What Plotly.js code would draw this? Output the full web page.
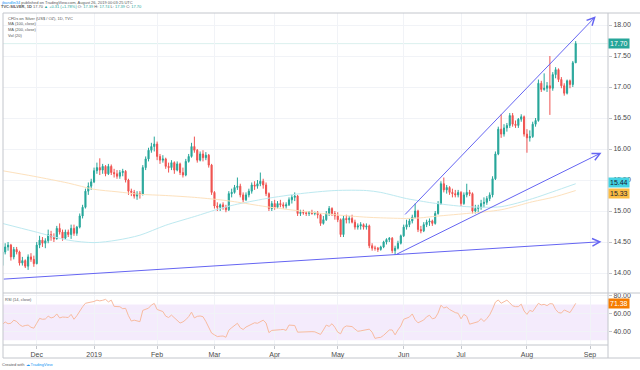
<!DOCTYPE html>
<html>
<head>
<meta charset="utf-8">
<script src="https://cdn.plot.ly/plotly-3.0.1.min.js"></script>
<style>html,body{margin:0;padding:0;background:#fff;}#chart{width:640px;height:370px;}</style>
</head>
<body>
<div id="chart"></div>
<script>
// ---- DATA ----
const dates = [
'2018-11-15','2018-11-16','2018-11-19','2018-11-20','2018-11-21','2018-11-22','2018-11-23','2018-11-26','2018-11-27','2018-11-28','2018-11-29','2018-11-30',
'2018-12-03','2018-12-04','2018-12-05','2018-12-06','2018-12-07','2018-12-10','2018-12-11','2018-12-12','2018-12-13','2018-12-14','2018-12-17','2018-12-18','2018-12-19','2018-12-20','2018-12-21','2018-12-24','2018-12-26','2018-12-27','2018-12-28','2018-12-31',
'2019-01-02','2019-01-03','2019-01-04','2019-01-07','2019-01-08','2019-01-09','2019-01-10','2019-01-11','2019-01-14','2019-01-15','2019-01-16','2019-01-17','2019-01-18','2019-01-21','2019-01-22','2019-01-23','2019-01-24','2019-01-25','2019-01-28','2019-01-29','2019-01-30','2019-01-31',
'2019-02-01','2019-02-04','2019-02-05','2019-02-06','2019-02-07','2019-02-08','2019-02-11','2019-02-12','2019-02-13','2019-02-14','2019-02-15','2019-02-18','2019-02-19','2019-02-20','2019-02-21','2019-02-22','2019-02-25','2019-02-26','2019-02-27','2019-02-28',
'2019-03-01','2019-03-04','2019-03-05','2019-03-06','2019-03-07','2019-03-08','2019-03-11','2019-03-12','2019-03-13','2019-03-14','2019-03-15','2019-03-18','2019-03-19','2019-03-20','2019-03-21','2019-03-22','2019-03-25','2019-03-26','2019-03-27','2019-03-28','2019-03-29',
'2019-04-01','2019-04-02','2019-04-03','2019-04-04','2019-04-05','2019-04-08','2019-04-09','2019-04-10','2019-04-11','2019-04-12','2019-04-15','2019-04-16','2019-04-17','2019-04-18','2019-04-19','2019-04-22','2019-04-23','2019-04-24','2019-04-25','2019-04-26','2019-04-29','2019-04-30',
'2019-05-01','2019-05-02','2019-05-03','2019-05-06','2019-05-07','2019-05-08','2019-05-09','2019-05-10','2019-05-13','2019-05-14','2019-05-15','2019-05-16','2019-05-17','2019-05-20','2019-05-21','2019-05-22','2019-05-23','2019-05-24','2019-05-27','2019-05-28','2019-05-29','2019-05-30','2019-05-31',
'2019-06-03','2019-06-04','2019-06-05','2019-06-06','2019-06-07','2019-06-10','2019-06-11','2019-06-12','2019-06-13','2019-06-14','2019-06-17','2019-06-18','2019-06-19','2019-06-20','2019-06-21','2019-06-24','2019-06-25','2019-06-26','2019-06-27','2019-06-28',
'2019-07-01','2019-07-02','2019-07-03','2019-07-04','2019-07-05','2019-07-08','2019-07-09','2019-07-10','2019-07-11','2019-07-12','2019-07-15','2019-07-16','2019-07-17','2019-07-18','2019-07-19','2019-07-22','2019-07-23','2019-07-24','2019-07-25','2019-07-26','2019-07-29','2019-07-30','2019-07-31',
'2019-08-01','2019-08-02','2019-08-05','2019-08-06','2019-08-07','2019-08-08','2019-08-09','2019-08-12','2019-08-13','2019-08-14','2019-08-15','2019-08-16','2019-08-19','2019-08-20','2019-08-21','2019-08-22','2019-08-23','2019-08-26'
];
// empty future slots on the time scale (right padding of the chart)
const futureDates = ['2019-08-27','2019-08-28','2019-08-29','2019-08-30','2019-09-02','2019-09-03','2019-09-04','2019-09-05','2019-09-06','2019-09-09','2019-09-10','2019-09-11'];

const open = [
14.12,14.34,14.42,14.45,14.26,14.38,14.34,14.16,14.20,14.11,14.26,14.22,
14.15,14.45,14.53,14.48,14.52,14.62,14.58,14.55,14.72,14.66,14.56,14.66,14.62,14.72,14.64,14.74,14.92,15.06,15.32,15.40,
15.47,15.65,15.70,15.66,15.72,15.60,15.72,15.62,15.60,15.56,15.62,15.64,15.50,15.32,15.30,15.24,15.28,15.27,15.70,15.84,15.98,16.04,
16.08,15.88,15.82,15.84,15.72,15.70,15.78,15.66,15.76,15.62,15.58,15.80,15.88,16.04,15.98,15.82,15.92,15.86,15.90,15.74,
15.30,15.08,15.06,15.10,15.06,15.02,15.28,15.30,15.38,15.40,15.26,15.18,15.26,15.32,15.42,15.40,15.44,15.48,15.42,15.28,15.04,
15.12,15.06,15.12,15.10,15.08,15.10,15.18,15.22,15.24,14.96,14.98,14.97,14.96,14.98,14.96,14.97,14.94,14.80,14.86,14.96,15.04,14.96,
14.92,14.86,14.62,14.88,14.86,14.88,14.82,14.74,14.76,14.78,14.74,14.76,14.44,14.40,14.40,14.38,14.42,14.50,14.54,14.56,14.36,14.40,14.48,
14.60,14.74,14.78,14.84,14.90,15.00,14.70,14.68,14.78,14.82,14.84,14.80,14.96,15.12,15.44,15.34,15.38,15.30,15.28,15.26,
15.30,15.12,15.26,15.30,15.28,15.00,15.04,15.06,15.12,15.14,15.20,15.26,15.52,15.92,16.32,16.24,16.34,16.38,16.54,16.40,16.38,16.48,16.52,
16.24,16.18,16.20,16.40,16.46,17.06,16.96,16.98,17.02,16.98,17.20,17.28,17.12,17.02,16.90,17.10,17.04,17.39
];
const high = [
14.38,14.48,14.50,14.47,14.42,14.42,14.36,14.26,14.22,14.30,14.32,14.28,
14.50,14.60,14.58,14.56,14.70,14.68,14.64,14.76,14.80,14.70,14.70,14.70,14.78,14.78,14.76,14.96,15.10,15.36,15.46,15.52,
15.70,15.78,15.85,15.76,15.74,15.76,15.75,15.68,15.66,15.66,15.68,15.66,15.52,15.36,15.34,15.32,15.32,15.74,15.88,16.02,16.10,16.20,
16.12,15.92,15.90,15.86,15.78,15.82,15.80,15.80,15.78,15.70,15.84,15.92,16.10,16.20,16.00,15.96,15.98,15.95,15.92,15.76,
15.32,15.14,15.12,15.14,15.10,15.32,15.36,15.42,15.54,15.44,15.30,15.30,15.36,15.46,15.48,15.50,15.62,15.52,15.46,15.30,15.16,
15.18,15.16,15.18,15.14,15.14,15.22,15.26,15.30,15.26,15.02,15.02,15.00,15.00,15.02,14.99,15.00,14.96,14.92,15.00,15.08,15.06,15.00,
14.98,14.88,14.92,14.94,14.92,14.94,14.86,14.80,14.82,14.80,14.80,14.78,14.48,14.44,14.42,14.44,14.52,14.56,14.58,14.58,14.44,14.52,14.62,
14.78,14.86,14.88,14.94,15.12,15.02,14.76,14.82,14.86,14.88,14.86,15.00,15.16,15.48,15.54,15.42,15.40,15.36,15.34,15.34,
15.32,15.30,15.44,15.34,15.30,15.10,15.10,15.18,15.22,15.24,15.30,15.56,15.96,16.36,16.56,16.40,16.42,16.58,16.58,16.46,16.50,16.56,16.54,
16.32,16.30,16.44,16.50,17.12,17.10,17.22,17.08,17.50,17.24,17.32,17.30,17.16,17.06,17.12,17.12,17.42,17.74
];
const low = [
14.08,14.30,14.36,14.20,14.22,14.30,14.12,14.12,14.08,14.05,14.18,14.10,
14.14,14.40,14.42,14.40,14.48,14.52,14.50,14.54,14.62,14.52,14.54,14.58,14.55,14.60,14.60,14.72,14.88,15.04,15.26,15.34,
15.45,15.60,15.58,15.60,15.56,15.58,15.58,15.54,15.52,15.52,15.56,15.46,15.26,15.24,15.20,15.18,15.20,15.25,15.66,15.80,15.94,15.96,
15.82,15.76,15.78,15.68,15.62,15.66,15.60,15.64,15.58,15.54,15.56,15.78,15.86,15.94,15.78,15.80,15.80,15.82,15.70,15.26,
15.04,15.00,15.00,15.02,14.98,15.00,15.22,15.28,15.34,15.22,15.14,15.16,15.22,15.28,15.34,15.36,15.40,15.36,15.24,15.00,15.00,
15.02,15.04,15.06,15.04,15.04,15.08,15.12,15.16,14.92,14.92,14.94,14.92,14.92,14.94,14.93,14.88,14.76,14.78,14.84,14.92,14.92,14.86,
14.82,14.58,14.58,14.80,14.80,14.80,14.70,14.70,14.70,14.70,14.70,14.40,14.36,14.36,14.34,14.36,14.40,14.46,14.50,14.32,14.29,14.38,14.46,
14.58,14.70,14.74,14.80,14.88,14.66,14.64,14.66,14.74,14.76,14.76,14.78,14.94,15.10,15.30,15.28,15.26,15.22,15.22,15.22,
15.08,15.10,15.22,15.24,14.96,14.96,14.98,15.02,15.06,15.10,15.16,15.22,15.50,15.90,16.18,16.20,16.28,16.34,16.36,16.34,16.34,16.44,16.20,
15.94,16.12,16.18,16.36,16.44,16.92,16.94,16.92,16.55,16.94,17.14,17.08,16.98,16.86,16.88,16.98,17.00,17.39
];
const close = [
14.34,14.42,14.45,14.26,14.38,14.34,14.16,14.20,14.11,14.26,14.22,14.15,
14.45,14.53,14.48,14.52,14.62,14.58,14.55,14.72,14.66,14.56,14.66,14.62,14.72,14.64,14.74,14.92,15.06,15.32,15.40,15.47,
15.65,15.70,15.66,15.72,15.60,15.72,15.62,15.60,15.56,15.62,15.64,15.50,15.32,15.30,15.24,15.28,15.27,15.70,15.84,15.98,16.04,16.08,
15.88,15.82,15.84,15.72,15.70,15.78,15.66,15.76,15.62,15.58,15.80,15.88,16.04,15.98,15.82,15.92,15.86,15.90,15.74,15.30,
15.08,15.06,15.10,15.06,15.02,15.28,15.30,15.38,15.40,15.26,15.18,15.26,15.32,15.42,15.40,15.44,15.48,15.42,15.28,15.04,15.12,
15.06,15.12,15.10,15.08,15.10,15.18,15.22,15.24,14.96,14.98,14.97,14.96,14.98,14.96,14.97,14.94,14.80,14.86,14.96,15.04,14.96,14.92,
14.86,14.62,14.88,14.86,14.88,14.82,14.74,14.76,14.78,14.74,14.76,14.44,14.40,14.40,14.38,14.42,14.50,14.54,14.56,14.36,14.40,14.48,14.60,
14.74,14.78,14.84,14.90,15.00,14.70,14.68,14.78,14.82,14.84,14.80,14.96,15.12,15.44,15.34,15.38,15.30,15.28,15.26,15.30,
15.12,15.26,15.30,15.28,15.00,15.04,15.06,15.12,15.14,15.20,15.26,15.52,15.92,16.32,16.24,16.34,16.38,16.54,16.40,16.38,16.48,16.52,16.24,
16.18,16.20,16.40,16.46,17.06,16.96,16.98,17.02,16.98,17.20,17.28,17.12,17.02,16.90,17.10,17.04,17.39,17.70
];
// RSI(14) values, one per bar
const rsi = [
47.5,50.5,48.5,49,52.5,51,47.5,45.5,46.5,47,
44.5,43.5,49,54.5,53.5,53.8,57,55,56,59.5,
55,56,55.8,55.5,59,53.5,57.5,63,67.5,71.5,
72.2,72.2,73.5,75,74.2,74.8,75.9,73,75,68,
67.8,67.6,65.4,65.8,57.5,51.5,52.5,51.5,50.8,63.5,
65,66,69.5,71.3,64.5,63,62.2,57,55.5,58.2,
55,52,49.3,50.6,53,56.5,61.5,55,56.8,57.2,
56.4,51,45,38,36,34.1,34.5,34.7,33.3,41.2,
44,46.5,49,44,42,44.8,46.5,48.7,49.6,49,
50.5,52.5,49.3,38.5,41,41.5,41.5,41.8,42.1,41,
47,47.1,46.5,39,39.2,39.6,39.6,39.6,39.6,39.4,
37.5,36.5,41.5,47,45.5,48.5,44.5,39,37.2,44,
46,46,45.3,42.5,40,40.5,41,41.6,42.4,39,
32,32.8,33.2,35.5,38,41.5,41.5,36,41.5,46,
53.5,54.6,56,59.5,53,49.5,50.8,52.7,56.3,58,
54,55,60.5,69.3,66.2,67.3,64.5,62.3,61,60.2,
54,59,56.8,48,48.8,50.2,50.8,54.3,51,54.3,
58.5,65,72.8,75.2,71.5,73.2,75,72,68.6,67.7,
67.7,70.5,62.8,59,63.5,62.2,67,71.4,69.6,70.3,
68.8,71,70.8,64.5,61,60.5,64,62.8,61,66,
71.38
];
// moving averages read at selected dates
const maDates = ['2018-11-15','2018-11-30','2018-12-18','2019-01-02','2019-01-14','2019-01-24','2019-02-06','2019-02-20','2019-03-05','2019-03-12','2019-03-27','2019-04-12','2019-04-30','2019-05-15','2019-05-22','2019-06-04','2019-06-11','2019-06-17','2019-07-03','2019-07-19','2019-08-05','2019-08-14','2019-08-26'];
const ma100 = [14.80,14.67,14.53,14.49,14.53,14.61,14.77,14.91,15.04,15.10,15.20,15.28,15.33,15.33,15.30,15.20,15.16,15.13,15.07,15.07,15.20,15.31,15.44];
const ma200 = [15.65,15.56,15.45,15.35,15.31,15.27,15.25,15.22,15.18,15.15,15.07,15.00,14.94,14.90,14.89,14.88,14.89,14.91,14.96,15.02,15.15,15.22,15.33];
// trend lines drawn on the chart: [start date, start price, end date, end price]
const trendLines = [
  ['2018-11-15', 13.90, '2019-09-06', 14.505],
  ['2019-05-29', 14.29, '2019-09-06', 15.94],
  ['2019-06-03', 14.92, '2019-09-04', 18.14]
];
const monthTickDates = ['2018-12-03','2019-01-02','2019-02-01','2019-03-01','2019-04-01','2019-05-01','2019-06-03','2019-07-01','2019-08-01','2019-09-02'];
const monthTickText = ['Dec','2019','Feb','Mar','Apr','May','Jun','Jul','Aug','Sep'];
const priceTicks = [14, 14.5, 15, 15.5, 16, 16.5, 17, 17.5, 18];
const rsiTicks = [40, 60, 80];

// ---- sanity ----
[open, high, low, close, rsi].forEach(a => { if (a.length !== dates.length) throw new Error('length mismatch ' + a.length); });

const allDates = dates.concat(futureDates);
const pos = d => allDates.indexOf(d);

// ---- colours / styling ----
const UP = '#26a69a', DOWN = '#ef5350';
const FRAME = '#c3c6cc', GRID = '#f1f3f7';
const TREND = '#6565f2';

const traces = [
  {
    type: 'candlestick', x: dates, open: open, high: high, low: low, close: close,
    xaxis: 'x', yaxis: 'y', whiskerwidth: 0, hoverinfo: 'skip',
    increasing: {line: {color: UP, width: 1}, fillcolor: UP},
    decreasing: {line: {color: DOWN, width: 1}, fillcolor: DOWN}
  },
  {type: 'scatter', mode: 'lines', x: maDates, y: ma100, xaxis: 'x', yaxis: 'y',
   line: {color: '#bde9f0', width: 1, shape: 'spline', smoothing: 0.8}, hoverinfo: 'skip'},
  {type: 'scatter', mode: 'lines', x: maDates, y: ma200, xaxis: 'x', yaxis: 'y',
   line: {color: '#fde1bd', width: 1, shape: 'spline', smoothing: 0.8}, hoverinfo: 'skip'},
  {type: 'scatter', mode: 'lines', x: dates, y: rsi, xaxis: 'x', yaxis: 'y2',
   line: {color: '#f8bba0', width: 1}, hoverinfo: 'skip'}
];

// paper-coordinate helpers for frame pieces / small texts (plot area: x 3..608, y 13..345)
const PX = X => (X - 3) / 605;
const PY = Y => (345 - Y) / 332;

const shapes = [
  // RSI 30-70 band
  {type: 'rect', xref: 'paper', yref: 'y2', x0: 0, x1: 1, y0: 30, y1: 70,
   fillcolor: 'rgba(170,100,235,0.13)', line: {width: 0}, layer: 'below'},
  // last price line
  {type: 'line', xref: 'paper', yref: 'y', x0: 0, x1: 1, y0: close[close.length - 1], y1: close[close.length - 1],
   line: {color: 'rgba(38,166,154,0.16)', width: 1}, layer: 'below'},
  // frame
  {type: 'line', xref: 'paper', yref: 'paper', x0: PX(3), x1: PX(640), y0: PY(13), y1: PY(13), line: {color: FRAME, width: 1}},
  {type: 'line', xref: 'paper', yref: 'paper', x0: PX(3), x1: PX(640), y0: PY(293), y1: PY(293), line: {color: FRAME, width: 1}},
  {type: 'line', xref: 'paper', yref: 'paper', x0: PX(3), x1: PX(608), y0: PY(345), y1: PY(345), line: {color: FRAME, width: 1}},
  {type: 'line', xref: 'paper', yref: 'paper', x0: PX(3), x1: PX(640), y0: PY(358), y1: PY(358), line: {color: FRAME, width: 1}},
  {type: 'line', xref: 'paper', yref: 'paper', x0: PX(3), x1: PX(3), y0: PY(13), y1: PY(358), line: {color: FRAME, width: 1}},
  {type: 'line', xref: 'paper', yref: 'paper', x0: PX(608), x1: PX(608), y0: PY(13), y1: PY(358), line: {color: FRAME, width: 1}}
];

const tiny = {family: 'Liberation Sans, Arial, sans-serif', size: 4, color: '#555'};
const annotations = [];
function note(text, X, Y, font) {
  annotations.push({xref: 'paper', yref: 'paper', x: PX(X), y: PY(Y), xanchor: 'left', yanchor: 'middle',
    text: text, showarrow: false, font: font || tiny, borderpad: 0});
}
note('<span style="color:#2196f3">jbandlin34</span> published on TradingView.com, August 26, 2019 00:03:25 UTC', 0, 2.3);
note('<b>TVC:SILVER, 1D</b> 17.70 <span style="color:#26a69a">▲ +0.31 (+1.78%)</span> O: <span style="color:#26a69a">17.39</span> H: <span style="color:#26a69a">17.74</span> L: <span style="color:#26a69a">17.39</span> C: <span style="color:#26a69a">17.70</span>', 0, 6.2);
note('CFDs on Silver (US$ / OZ), 1D, TVC', 7, 18.3);
note('MA (100, close)', 7, 24);
note('MA (200, close)', 7, 30);
note('Vol (20)', 7, 35.5);
note('RSI (14, close)', 4, 299);
note('Created with <span style="color:#2196f3">☁ TradingView</span>', 1, 364);

// trend line arrows
trendLines.forEach(t => {
  annotations.push({xref: 'x', yref: 'y', axref: 'x', ayref: 'y',
    x: pos(t[2]), y: t[3], ax: pos(t[0]), ay: t[1], text: '',
    showarrow: true, arrowhead: 5, arrowsize: 1.5, arrowwidth: 1, arrowcolor: TREND, standoff: 0});
});

// price-scale labels
function priceTag(val, yref, bg, fg, yshift) {
  annotations.push({xref: 'paper', yref: yref, x: 1, y: val, xanchor: 'left', yanchor: 'middle',
    xshift: 0, yshift: yshift || 0, text: val.toFixed(2), showarrow: false, bgcolor: bg, borderpad: 1,
    font: {family: 'Liberation Sans, Arial, sans-serif', size: 7, color: fg}});
}
priceTag(close[close.length - 1], 'y', UP, '#ffffff', 0);
priceTag(ma100[ma100.length - 1], 'y', '#45d3e3', '#1a2030', 1);
priceTag(ma200[ma200.length - 1], 'y', '#fbbd45', '#1a2030', -3);
priceTag(rsi[rsi.length - 1], 'y2', '#f57c00', '#ffffff', 0);

const tickFont = {family: 'Liberation Sans, Arial, sans-serif', size: 7, color: '#4a4a4a'};
const layout = {
  width: 640, height: 370,
  margin: {l: 3, r: 32, t: 13, b: 25, pad: 0},
  paper_bgcolor: '#ffffff', plot_bgcolor: '#ffffff',
  showlegend: false, dragmode: false, hovermode: false,
  boxgap: 0.45,
  font: {family: 'Liberation Sans, Arial, sans-serif', size: 7, color: '#4a4a4a'},
  xaxis: {
    type: 'category', categoryorder: 'array', categoryarray: allDates,
    range: [0.24, 211.27], anchor: 'y2', rangeslider: {visible: false},
    tickmode: 'array', tickvals: monthTickDates.map(pos), ticktext: monthTickText,
    ticks: 'outside', ticklen: 3, tickcolor: FRAME, tickfont: tickFont,
    showgrid: true, gridcolor: GRID, gridwidth: 1, zeroline: false, showline: false, fixedrange: true
  },
  yaxis: {
    domain: [PY(293), 1], range: [13.6774, 18.1935], side: 'right', anchor: 'x',
    tickmode: 'array', tickvals: priceTicks, tickformat: '.2f',
    ticks: 'outside', ticklen: 3, tickcolor: FRAME, tickfont: tickFont,
    showgrid: true, gridcolor: GRID, zeroline: false, showline: false, fixedrange: true
  },
  yaxis2: {
    domain: [0, PY(293)], range: [24.6, 83.03], side: 'right', anchor: 'x',
    tickmode: 'array', tickvals: rsiTicks, tickformat: '.2f',
    ticks: 'outside', ticklen: 3, tickcolor: FRAME, tickfont: tickFont,
    showgrid: true, gridcolor: GRID, zeroline: false, showline: false, fixedrange: true
  },
  shapes: shapes,
  annotations: annotations
};

Plotly.newPlot('chart', traces, layout, {displayModeBar: false, staticPlot: true});
</script>
</body>
</html>
